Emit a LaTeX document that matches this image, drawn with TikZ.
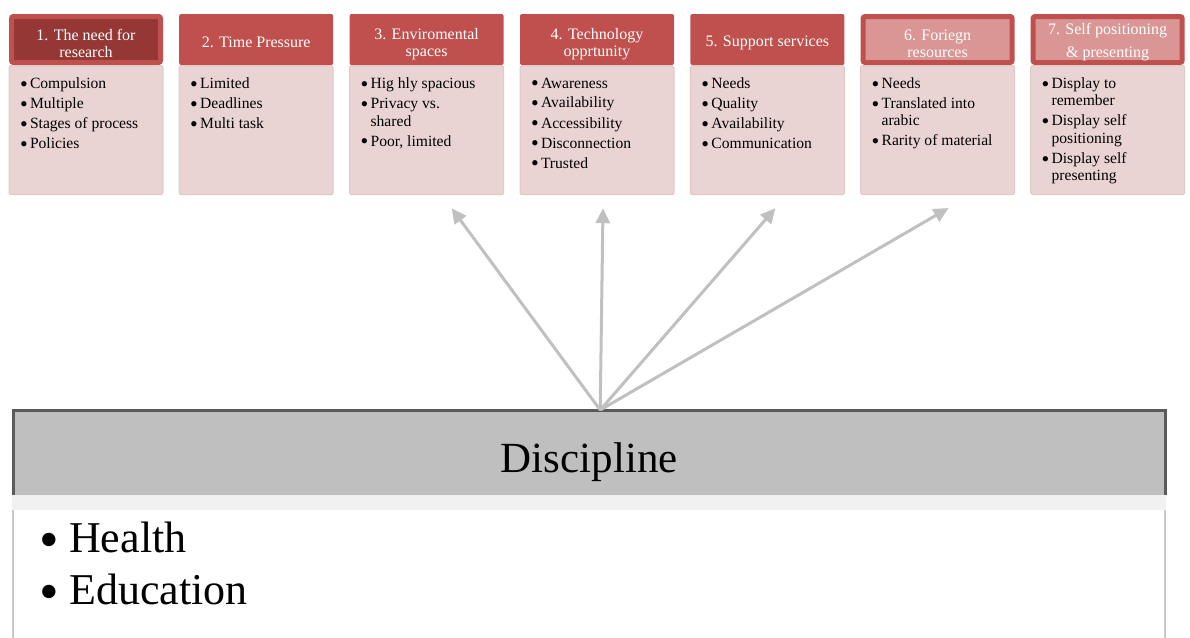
\documentclass[tikz,border=0pt]{standalone}
\usepackage{fontspec}
\setmainfont{Liberation Serif}
\usetikzlibrary{arrows.meta, positioning}
\definecolor{hdrRed}{HTML}{C0504D}
\definecolor{hdrDark}{HTML}{953735}
\definecolor{hdrLight}{HTML}{D99694}
\definecolor{bodyPink}{HTML}{E9D3D3}
\definecolor{bodyLine}{HTML}{E3C8C8}
\definecolor{discGray}{HTML}{BFBFBF}
\definecolor{discEdge}{HTML}{5A5A5A}
\definecolor{discSide}{HTML}{C8C8C8}
\definecolor{discStrip}{HTML}{F1F1F1}
\definecolor{arrowGray}{HTML}{C0C0C0}
\newcommand{\hd}[3][0pt]{\rule{0pt}{20pt}#2\\[#1]#3}
\newcommand{\itm}[1]{\makebox[10pt][l]{\fontsize{22pt}{17pt}\selectfont\raisebox{-2.8pt}{\textbullet}}#1}
\newcommand{\cnt}{\hspace*{10pt}}
\newcommand{\lst}[1]{\parbox[t][105pt][t]{132pt}{\raggedright #1}}
\newcommand{\dItm}[1]{\makebox[30pt][l]{\fontsize{56pt}{52pt}\selectfont\raisebox{-6pt}{\textbullet}}#1}

\begin{document}
\begin{tikzpicture}[x=1pt, y=1pt, node distance=16pt, font=\fontsize{16pt}{17pt}\selectfont]
    \tikzset{
      hdr/.style={rectangle, fill=hdrRed, text=white, rounded corners=2pt,
                  minimum width=154pt, minimum height=51pt, align=center,
                  inner xsep=2pt, inner ysep=0pt, execute at begin node={\rule{0pt}{17pt}}},
      hdrDk/.style={hdr, fill=hdrDark, draw=hdrRed, line width=5pt,
                    minimum width=149pt, minimum height=46pt},
      hdrLt/.style={hdr, fill=hdrLight, draw=hdrRed, line width=5pt,
                    minimum width=149pt, minimum height=46pt},
      bdy/.style={rectangle, fill=bodyPink, draw=bodyLine, line width=1pt,
                  rounded corners=2pt, minimum width=154pt, minimum height=129pt,
                  inner xsep=11pt, inner ysep=12pt,
                  font=\fontsize{15.6pt}{17.5pt}\selectfont},
      discHead/.style={rectangle, fill=discGray, minimum width=1152pt,
                       minimum height=85pt, inner sep=0pt, text height=39pt,
                       text depth=0pt, font=\fontsize{43pt}{48pt}\selectfont},
      discBody/.style={rectangle, fill=white, draw=discSide, line width=2.5pt,
                       minimum width=1152pt, inner xsep=26pt, inner ysep=25pt,
                       font=\fontsize{44pt}{52pt}\selectfont},
      arr/.style={-{Triangle[length=15pt, width=14pt]}, line width=3pt, draw=arrowGray}
    }
    \useasboundingbox (0,0) rectangle (1190,-637);
    \clip (0,0) rectangle (1190,-637);
    \node[hdrDk, anchor=north west] (h1) at (9,-14) {\hd{1. The need for}{research}};
    \node[hdr, right=of h1] (h2) {2. Time Pressure};
    \node[hdr, right=of h2] (h3) {\hd{3. Enviromental}{spaces}};
    \node[hdr, right=of h3] (h4) {\hd{4. Technology}{opprtunity}};
    \node[hdr, right=of h4] (h5) {5. Support services};
    \node[hdrLt, right=of h5] (h6) {\hd{6. Foriegn}{resources}};
    \node[hdrLt, right=of h6] (h7) {\rule{0pt}{17pt}7. Self positioning\\[6pt]\& presenting};
    \node[bdy, below=0pt of h1] (b1) {\lst{\itm{Compulsion}\\[2.5pt]\itm{Multiple}\\[2.5pt]\itm{Stages of process}\\[2.5pt]\itm{Policies}}};
    \node[bdy, below=0pt of h2] (b2) {\lst{\itm{Limited}\\[2.5pt]\itm{Deadlines}\\[2.5pt]\itm{Multi task}}};
    \node[bdy, below=0pt of h3] (b3) {\lst{\itm{Hig hly spacious}\\[2.5pt]\itm{Privacy vs.}\\\cnt shared\\[2.5pt]\itm{Poor, limited}}};
    \node[bdy, below=0pt of h4] (b4) {\lst{\itm{Awareness}\\[2.5pt]\itm{Availability}\\[2.5pt]\itm{Accessibility}\\[2.5pt]\itm{Disconnection}\\[2.5pt]\itm{Trusted}}};
    \node[bdy, below=0pt of h5] (b5) {\lst{\itm{Needs}\\[2.5pt]\itm{Quality}\\[2.5pt]\itm{Availability}\\[2.5pt]\itm{Communication}}};
    \node[bdy, below=0pt of h6] (b6) {\lst{\itm{Needs}\\[2.5pt]\itm{Translated into}\\\cnt arabic\\[2.5pt]\itm{Rarity of material}}};
    \node[bdy, below=0pt of h7] (b7) {\lst{\itm{Display to}\\\cnt remember\\[2.5pt]\itm{Display self}\\\cnt positioning\\[2.5pt]\itm{Display self}\\\cnt presenting}};
    \node[discHead, anchor=north west] (disc) at (13,-410) {Discipline};
    \node[discBody, below=0pt of disc] (discB) {\parbox[t][110pt][t]{1100pt}{\dItm{Health}\\\dItm{Education}}};
    \fill[discStrip] (discB.north west) rectangle ([yshift=-15pt]discB.north east);
    \draw[discEdge, line width=3pt] (disc.south west) -- (disc.north west) -- (disc.north east) -- (disc.south east);
    \coordinate (hub) at ([xshift=11pt]disc.north);
    \coordinate (t3) at ([xshift=25pt, yshift=-13pt]b3.south);
    \coordinate (t4) at ([xshift=6pt, yshift=-13pt]b4.south);
    \coordinate (t5) at ([xshift=8pt, yshift=-13pt]b5.south);
    \coordinate (t6) at ([xshift=11pt, yshift=-13pt]b6.south);
    \draw[arr] (hub) -- (t3);
    \draw[arr] (hub) -- (t4);
    \draw[arr] (hub) -- (t5);
    \draw[arr] (hub) -- (t6);
  \end{tikzpicture}
\end{document}
